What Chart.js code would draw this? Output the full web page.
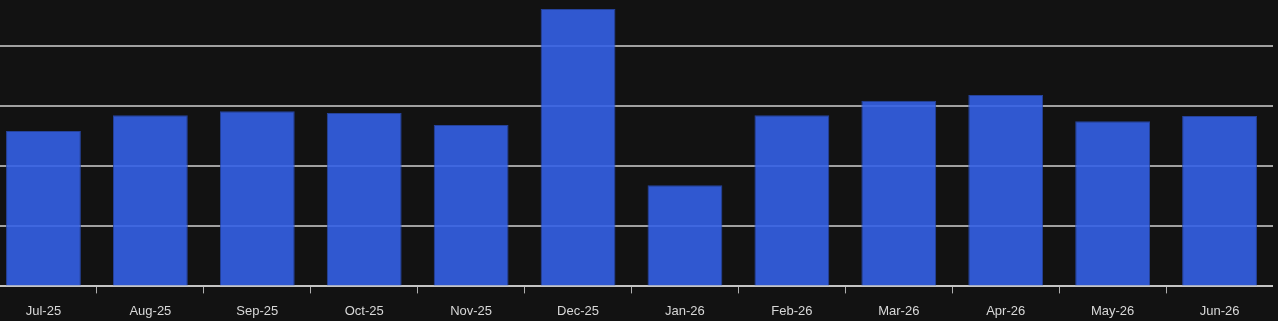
<!DOCTYPE html>
<html>
<head>
<meta charset="utf-8">
<script src="https://cdn.jsdelivr.net/npm/chart.js@4"></script>
<style>
  html, body { margin: 0; padding: 0; background: #121212; overflow: hidden; }
  #wrap { position: absolute; left: -10px; top: 0; width: 1283px; height: 332px; }
</style>
</head>
<body>
<div id="wrap"><canvas id="barChart"></canvas></div>
<script>
const months = ['Jul-25', 'Aug-25', 'Sep-25', 'Oct-25', 'Nov-25', 'Dec-25',
                'Jan-26', 'Feb-26', 'Mar-26', 'Apr-26', 'May-26', 'Jun-26'];
const values = [51.7, 57.0, 58.3, 57.7, 53.7, 92.3, 33.7, 57.0, 61.8, 63.7, 55.0, 56.7];
const yStep = 20;
const yMax = 95.33;

const ctx = document.getElementById('barChart');

new Chart(ctx, {
  type: 'bar',
  data: {
    labels: months,
    datasets: [{
      data: values,
      backgroundColor: 'rgba(52, 97, 229, 0.9)',
      borderColor: 'rgba(40, 72, 170, 0.9)',
      borderWidth: 1,
      categoryPercentage: 0.7,
      barPercentage: 1
    }]
  },
  options: {
    responsive: true,
    maintainAspectRatio: false,
    animation: false,
    layout: { padding: { top: 0, bottom: 3, left: 0, right: 0 } },
    plugins: {
      legend: { display: false },
      tooltip: { enabled: false }
    },
    scales: {
      x: {
        grid: {
          drawOnChartArea: false,
          drawTicks: true,
          tickLength: 7,
          tickColor: '#b0b0b0',
          lineWidth: 1
        },
        border: { display: true, color: '#c4c4c4', width: 2 },
        ticks: {
          color: '#d8d8d8',
          padding: 10,
          maxRotation: 0,
          autoSkip: false,
          font: { family: '"Liberation Sans", Arial, sans-serif', size: 13 }
        }
      },
      y: {
        min: 0,
        max: yMax,
        ticks: { display: false, stepSize: yStep },
        border: { display: false },
        grid: {
          drawTicks: false,
          lineWidth: 2,
          color: (c) => (c.tick && c.tick.value > 0 && c.tick.value % yStep === 0) ? '#a0a0a0' : 'transparent'
        }
      }
    }
  }
});
</script>
</body>
</html>
